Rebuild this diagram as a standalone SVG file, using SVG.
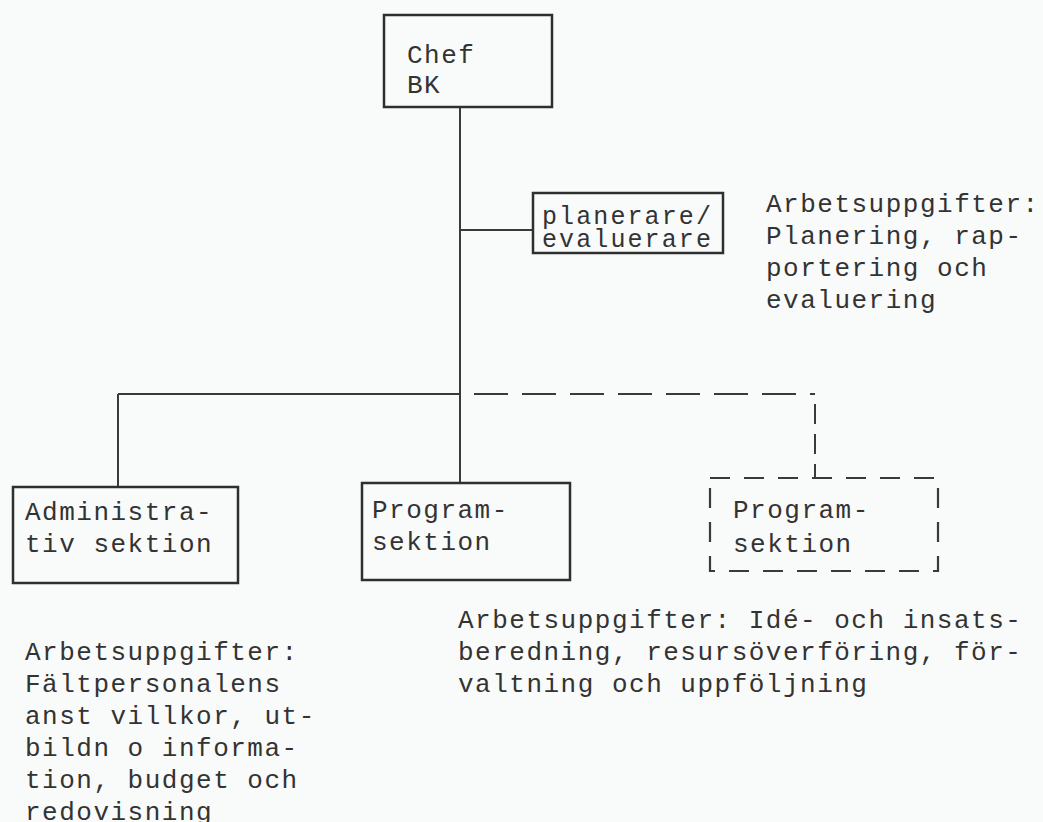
<svg xmlns="http://www.w3.org/2000/svg" width="1043" height="822" viewBox="0 0 1043 822">
  <style>
    .box { fill: none; stroke: #2f2f2f; stroke-width: 2.5; }
    .dbox { fill: none; stroke: #3a3a3a; stroke-width: 2.2; stroke-dasharray: 20 14; }
    .line { fill: none; stroke: #3a3a3a; stroke-width: 2; }
    .dline { fill: none; stroke: #3a3a3a; stroke-width: 2.2; stroke-dasharray: 34 14; }
    .vdash { fill: none; stroke: #3a3a3a; stroke-width: 2; stroke-dasharray: 20 10; }
    text { font-family: "Liberation Mono", "DejaVu Sans Mono", monospace; font-size: 26px; letter-spacing: 1.5px; fill: #333333; }
    .tight { font-size: 25px; letter-spacing: 2.1px; }
  </style>
  <rect x="0" y="0" width="1043" height="822" fill="#f9fbfa"/>

  <!-- connectors: solid reporting lines, dashed line to the planned section -->
  <g id="connectors">
    <line class="line" x1="460" y1="107" x2="460" y2="483"/>
    <line class="line" x1="460" y1="230" x2="533" y2="230"/>
    <line class="line" x1="118" y1="394" x2="460" y2="394"/>
    <line class="line" x1="118" y1="394" x2="118" y2="487"/>
    <line class="dline" x1="474" y1="394" x2="815" y2="394"/>
    <line class="vdash" x1="815" y1="404" x2="815" y2="478"/>
  </g>

  <g id="chef">
    <rect class="box" x="384" y="15" width="168" height="92"/>
    <text x="407" y="63">Chef</text>
    <text x="407" y="93">BK</text>
  </g>

  <g id="planerare">
    <rect class="box" x="533" y="193" width="190" height="60"/>
    <text class="tight" x="542" y="224">planerare/</text>
    <text class="tight" x="542" y="247">evaluerare</text>
  </g>

  <g id="planerare-note">
    <text x="766" y="212">Arbetsuppgifter:</text>
    <text x="766" y="244">Planering, rap-</text>
    <text x="766" y="276">portering och</text>
    <text x="766" y="308">evaluering</text>
  </g>

  <g id="admin">
    <rect class="box" x="13" y="487" width="225" height="96"/>
    <text x="25" y="520">Administra-</text>
    <text x="25" y="552">tiv sektion</text>
  </g>

  <g id="program">
    <rect class="box" x="362" y="483" width="208" height="97"/>
    <text x="372" y="518">Program-</text>
    <text x="372" y="550">sektion</text>
  </g>

  <g id="program-planned">
    <rect class="dbox" x="710" y="478" width="228" height="93"/>
    <text x="733" y="518">Program-</text>
    <text x="733" y="552">sektion</text>
  </g>

  <g id="admin-note">
    <text x="25" y="660">Arbetsuppgifter:</text>
    <text x="25" y="692">Fältpersonalens</text>
    <text x="25" y="724">anst villkor, ut-</text>
    <text x="25" y="756">bildn o informa-</text>
    <text x="25" y="788">tion, budget och</text>
    <text x="25" y="820">redovisning</text>
  </g>

  <g id="program-note">
    <text x="458" y="628">Arbetsuppgifter: Idé- och insats-</text>
    <text x="458" y="660">beredning, resursöverföring, för-</text>
    <text x="458" y="692">valtning och uppföljning</text>
  </g>
</svg>
